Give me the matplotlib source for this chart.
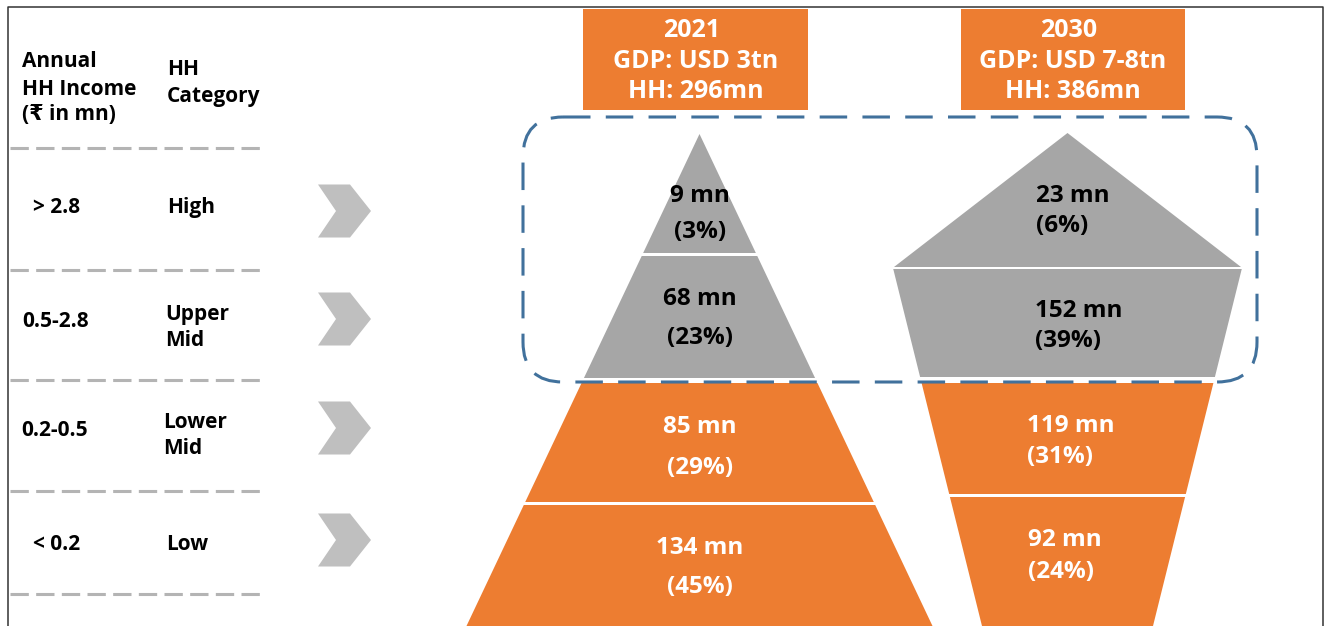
#
########################################################################
# Bibliotecas
########################################################################
#
import matplotlib
matplotlib.use("Agg")
import matplotlib.pyplot as plt
from matplotlib.patches import Polygon, Rectangle, FancyBboxPatch

#
########################################################################
# Dados
########################################################################
#
income_bands = ["> 2.8", "0.5-2.8", "0.2-0.5", "< 0.2"]
categories = ["High", "Upper\nMid", "Lower\nMid", "Low"]
years = ["2021", "2030"]
gdp = ["USD 3tn", "USD 7-8tn"]
total_hh = [296, 386]
hh_2021 = [9, 68, 85, 134]
pct_2021 = [3, 23, 29, 45]
hh_2030 = [23, 152, 119, 92]
pct_2030 = [6, 39, 31, 24]

#
########################################################################
# Layout (pixels)
########################################################################
#
W, H = 1324, 626
ORANGE = "#ED7D31"
GRAY = "#A6A6A6"
BLUE = "#41719C"
FONT = ["Open Sans", "DejaVu Sans"]

row_y = [211, 319, 428, 540]
sep_y = [148, 270, 380, 491, 594]
cat_text = [(167, 213, None), (165, 320, 346), (163, 428, 454), (166, 550, None)]
income_text = [(33, 213), (22, 327), (21, 436), (33, 550)]

# band limits (top, bottom) for each pyramid
bands_2021 = [(134, 253), (256, 378), (383, 502), (505, 640)]
bands_2030 = [(133, 267), (269, 377), (383, 494), (497, 640)]

def hw_2021(y):
    return (y - 134) * 0.4736

def hw_2030(y, top=False):
    if top:
        return (y - 133) * 173.5 / 134
    return 174.5 - (y - 268) * 0.2486

fig = plt.figure(figsize=(W / 100, H / 100), dpi=100)
ax = fig.add_axes([0, 0, 1, 1])
ax.set_xlim(0, W)
ax.set_ylim(H, 0)
ax.set_axis_off()

#
########################################################################
# Moldura
########################################################################
#
ax.plot([8, 8, 1322.5, 1322.5], [H, 7, 7, H], color="#333333", lw=1.1)

#
########################################################################
# Coluna da esquerda
########################################################################
#
LS = 15
ax.text(22, 67, "Annual", fontsize=LS, fontweight="bold", family=FONT, va="baseline")
ax.text(22, 95, "HH Income", fontsize=LS, fontweight="bold", family=FONT, va="baseline")
ax.text(22, 120, "(₹ in mn)", fontsize=LS, fontweight="bold", family=FONT, va="baseline")
ax.text(167, 75, "HH", fontsize=LS, fontweight="bold", family=FONT, va="baseline")
ax.text(167, 102, "Category", fontsize=LS, fontweight="bold", family=FONT, va="baseline")

for y in sep_y:
    ax.plot([10, 260], [y, y], color="#B4B4B4", lw=2.2, ls=(0, (6, 2.4)),
            solid_capstyle="butt")

for i in range(len(categories)):
    x, y = income_text[i]
    ax.text(x, y, income_bands[i], fontsize=LS, fontweight="bold",
            family=FONT, va="baseline")
    lines = categories[i].split("\n")
    xx, y1, y2 = cat_text[i]
    ax.text(xx, y1, lines[0], fontsize=LS, fontweight="bold", family=FONT,
            va="baseline")
    if len(lines) > 1:
        ax.text(xx, y2, lines[1], fontsize=LS, fontweight="bold",
                family=FONT, va="baseline")
    cy = row_y[i]
    chev = [(318, cy - 26.5), (350, cy - 26.5), (371, cy), (350, cy + 26.5),
            (318, cy + 26.5), (336, cy)]
    ax.add_patch(Polygon(chev, closed=True, color="#BFBFBF", lw=0))

#
########################################################################
# Caixas de cabecalho
########################################################################
#
box_x = [(583, 808), (961, 1185)]
for i in range(len(years)):
    x0, x1 = box_x[i]
    ax.add_patch(Rectangle((x0, 9), x1 - x0, 101, color=ORANGE, lw=0))
    cx = (x0 + x1) / 2
    ax.text(cx - 4, 37, years[i], color="white", fontsize=18, fontweight="bold",
            family=FONT, ha="center", va="baseline")
    ax.text(cx, 68, "GDP: " + gdp[i], color="white", fontsize=18,
            fontweight="bold", family=FONT, ha="center", va="baseline")
    ax.text(cx, 98, "HH: %dmn" % total_hh[i], color="white", fontsize=18,
            fontweight="bold", family=FONT, ha="center", va="baseline")

#
########################################################################
# Piramides
########################################################################
#
seg_colors = [GRAY, GRAY, ORANGE, ORANGE]
txt_colors = ["black", "black", "white", "white"]
FS = 17.5

# 2021
c = 699.5
lab_y_2021 = [(202, 238), (305, 344), (433, 474), (554, 593)]
for i, (y0, y1) in enumerate(bands_2021):
    pts = [(c - hw_2021(y0), y0), (c + hw_2021(y0), y0),
           (c + hw_2021(y1), y1), (c - hw_2021(y1), y1)]
    ax.add_patch(Polygon(pts, closed=True, color=seg_colors[i], lw=0))
    ax.text(700, lab_y_2021[i][0], "%d mn" % hh_2021[i], color=txt_colors[i],
            fontsize=FS, fontweight="bold", family=FONT, ha="center",
            va="baseline")
    ax.text(700, lab_y_2021[i][1], "(%d%%)" % pct_2021[i], color=txt_colors[i],
            fontsize=FS, fontweight="bold", family=FONT, ha="center",
            va="baseline")

# 2030
c = 1067.5
lab_x_2030 = [1036, 1035, 1027, 1028]
lab_y_2030 = [(202, 232), (317, 347), (432, 463), (546, 578)]
for i, (y0, y1) in enumerate(bands_2030):
    if i == 0:
        pts = [(c, y0), (c + hw_2030(y1, True), y1), (c - hw_2030(y1, True), y1)]
    else:
        pts = [(c - hw_2030(y0), y0), (c + hw_2030(y0), y0),
               (c + hw_2030(y1), y1), (c - hw_2030(y1), y1)]
    ax.add_patch(Polygon(pts, closed=True, color=seg_colors[i], lw=0))
    ax.text(lab_x_2030[i], lab_y_2030[i][0], "%d mn" % hh_2030[i],
            color=txt_colors[i], fontsize=FS, fontweight="bold", family=FONT,
            ha="left", va="baseline")
    ax.text(lab_x_2030[i], lab_y_2030[i][1], "(%d%%)" % pct_2030[i],
            color=txt_colors[i], fontsize=FS, fontweight="bold", family=FONT,
            ha="left", va="baseline")

#
########################################################################
# Destaque tracejado
########################################################################
#
ax.add_patch(FancyBboxPatch((523, 117), 1257 - 523, 382 - 117,
                            boxstyle="round,pad=0,rounding_size=40",
                            fill=False, edgecolor=BLUE, lw=2.2,
                            ls=(0, (9, 5)), zorder=5))

fig.savefig("out.png", dpi=100)
